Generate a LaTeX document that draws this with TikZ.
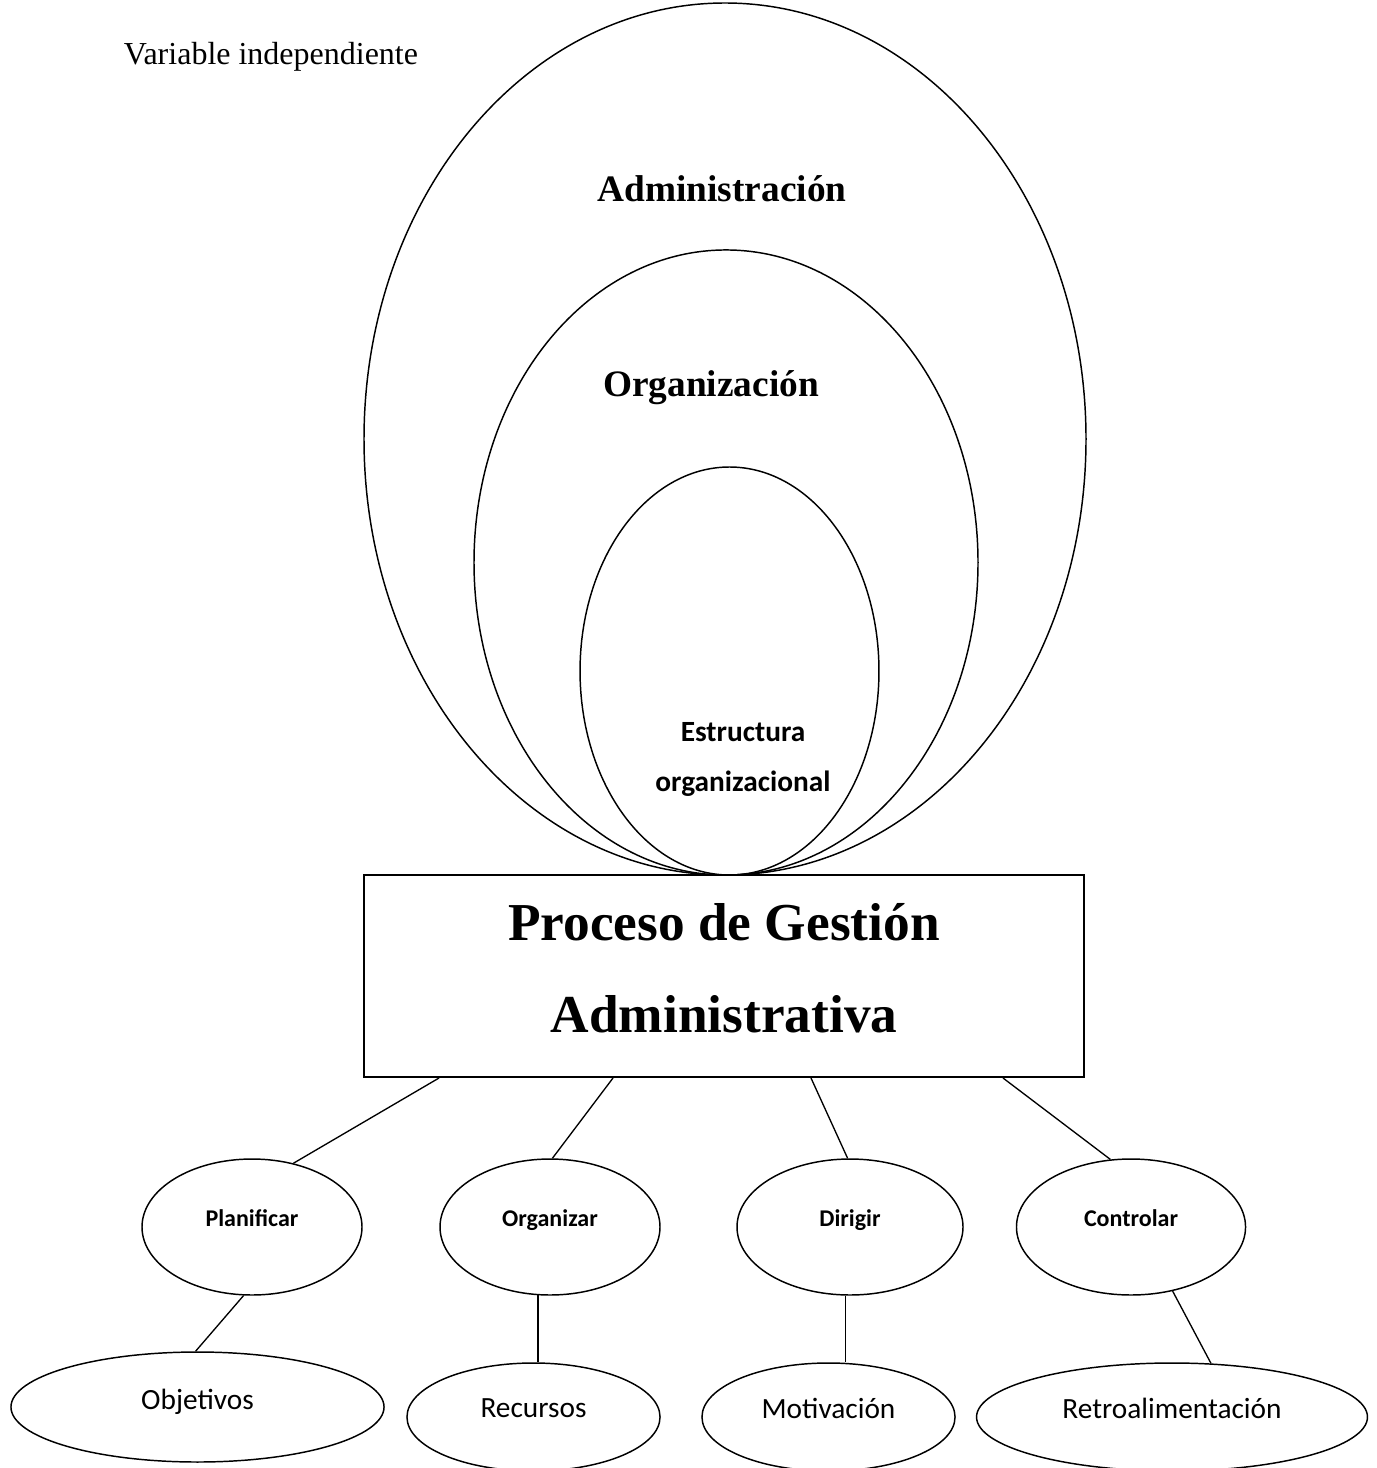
\documentclass[tikz,border=0pt]{standalone}
\usepackage{fontspec}
\setmainfont{Liberation Serif}
\newfontfamily\calibri{Carlito}
\usetikzlibrary{shapes.geometric,calc}

\tikzset{
  line/.style={draw=black, line width=0.55pt},
  bigoval/.style={ellipse, line, inner sep=0pt},
  taskoval/.style={ellipse, line, inner sep=0pt, minimum width=82.5pt, minimum height=51pt,
                   font=\calibri\bfseries\fontsize{9}{11}\selectfont},
  itemoval/.style={ellipse, line, inner sep=0pt, minimum height=40.5pt,
                   font=\calibri\fontsize{11}{13}\selectfont},
  ringlabel/.style={font=\bfseries\fontsize{14}{17}\selectfont},
  boxtitle/.style={anchor=base, inner sep=0pt, font=\bfseries\fontsize{20}{24}\selectfont},
  link/.style={line, line width=0.5pt}
}

\begin{document}
\begin{tikzpicture}[x=0.375pt, y=-0.375pt]
  \useasboundingbox (0,0) rectangle (1376,1468);

  % caption
  \node[font=\fontsize{12}{14}\selectfont] (caption) at (271,57) {Variable independiente};

  % nested ovals, all touching the box top
  \node[bigoval, minimum width=270.75pt, minimum height=327pt] (admin) at (725,439) {};
  \node[bigoval, minimum width=189pt, minimum height=234.4pt] (orga) at (726,562.5) {};
  \node[bigoval, minimum width=112.1pt, minimum height=153pt] (estr) at (729.5,671) {};

  \node[ringlabel] (adminlbl) at (722,189) {Administración};
  \node[ringlabel] (orgalbl) at (711,388) {Organización};
  \node[font=\calibri\bfseries\fontsize{11}{18.75}\selectfont, align=center] (estrlbl) at (743,759)
    {Estructura\\organizacional};

  % central box
  \node[draw=black, line width=0.75pt, minimum width=270pt, minimum height=75.75pt, inner sep=0pt]
    (box) at (724,976) {};
  \node[boxtitle] (title1) at (724,940) {Proceso de Gestión};
  \node[boxtitle] (title2) at (724,1032) {Administrativa};

  % functions
  \node[taskoval] (plan) at (252,1227) {\raisebox{6.5pt}{Planificar}};
  \node[taskoval] (orgz) at (550,1227) {\raisebox{6.5pt}{Organizar}};
  \node[taskoval, minimum width=84.75pt] (diri) at (850,1227) {\raisebox{6.5pt}{Dirigir}};
  \node[taskoval, minimum width=85.9pt] (ctrl) at (1131,1227) {\raisebox{6.5pt}{Controlar}};

  % outcomes
  \node[itemoval, minimum width=139.9pt, minimum height=41.25pt] (obje) at (197.5,1407) {\raisebox{6pt}{Objetivos}};
  \node[itemoval, minimum width=94.9pt] (recu) at (533.5,1417) {\raisebox{6.5pt}{Recursos}};
  \node[itemoval, minimum width=94.9pt] (moti) at (828.5,1417) {\raisebox{6.5pt}{Motivación}};
  \node[itemoval, minimum width=146.6pt] (retr) at (1172,1417) {\raisebox{6.5pt}{Retroalimentación}};

  % box to functions
  \draw[link] ($(box.south west)+(76,0)$) -- (plan.57);
  \draw[link] ($(box.south west)+(250,0)$) -- (orgz.88.5);
  \draw[link] ($(box.south west)+(448,0)$) -- (diri.92.5);
  \draw[link] ($(box.south west)+(640,0)$) -- (ctrl.107);

  % functions to outcomes
  \draw[link] (plan.-97.6) -- (obje.92);
  \draw[link] (orgz.-100) -- (orgz.-100 |- recu.north);
  \draw[link] (diri.-94) -- (diri.-94 |- moti.north);
  \draw[link] (ctrl.-57) -- (retr.54.4);
\end{tikzpicture}
\end{document}
